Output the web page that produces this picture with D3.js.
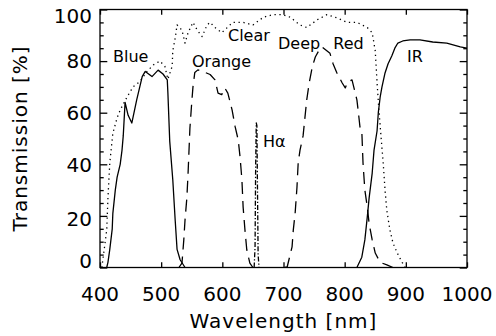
<!DOCTYPE html>
<html><head><meta charset="utf-8">
<script src="https://cdn.jsdelivr.net/npm/d3@7"></script>
<style>
html,body{margin:0;padding:0;background:#fff;}
svg text{font-family:"DejaVu Sans",sans-serif;fill:#000;}
</style></head>
<body><svg id="c" width="496" height="336"></svg>
<script>
// ---- data ----
const xTicks = [400,500,600,700,800,900,1000];
const yTicks = [0,20,40,60,80,100];
const yMinor = [5,10,15,25,30,35,45,50,55,65,70,75,85,90,95];

const blueNm = [411,413,416,420,421,425,428,433,436,438,441,446,452,460,469,474,485,495,503,510,511,514,519,523,526,531,539];
const blueT  = [0,2,7,15,21,30,35,40,45.5,51,64,59,56,65,74,76,74,76.5,75,72.7,67.6,49,34,18,7,3,0];

const clearNm = [403,411,413,416,421,428,433,444,454,465,477,487,498,506,511,518,519,523,526,534,539,544,552,559,567,575,580,588,599,608,617,634,650,667,683,699,711,727,738,755,771,788,804,820,837,845,850,853,856,859,863,866,869,874,879,886,894,899];
const clearT  = [0,14.5,27,40.5,52,58,61,66,70,72,76,78.5,80,78,73,78,84,89,94,92,87,91,95,92,89.5,94,95,93,91,93,95,95,94,97,98,98,97,94,93,96,98,96.7,95,95,93,91,84,71.5,61,52,40.5,30,22,14.5,9.5,5.6,2,0];

const orangeNm = [529,534,537,539,542,544,547,550,552,555,560,572,580,588,593,599,604,609,616,621,626,629,632,634,637,640,645,650];
const orangeT  = [0,1.7,10.7,18.4,27,36.6,54,64,70,75.6,76.6,75.6,74.8,72.7,67.6,67,69.6,67.6,61,54.5,49.4,42.8,34,23.4,14.5,6.8,1.7,0];

const haNm = [652,653.5,654.5,655.5,656.5,657.5,658.5,660];
const haT  = [0,8,40,56,55,30,5,0];

const redNm = [702,706,714,716,719,722,724,727,732,735,738,742,747,752,760,763,776,781,787,796,801,805,812,820,822,825,828,830,833,837,840,845,850,858,869,879];
const redT  = [0,0.2,8,14.5,21,31,40.5,45.5,51,58,65,71.5,77.7,81.6,85,85.5,83,79,75.6,71.5,69.6,72,72.7,65,61,54.5,53,40.5,30,23.4,17,10.7,5.6,2,1,0];

const irNm = [820,828,833,837,840,845,848,853,855,858,861,866,871,877,882,887,895,907,923,944,967,989,1000];
const irT  = [0,4,10.7,19.6,27,36.6,45.5,53,60,66,70,75.4,79,82,85,87,87.8,88.2,88.2,87.4,87,85.5,85];

const labels = [
  {t:"Blue", nm:"blue"},
];

// ---- layout ----
const L=100, R=467, T=9.5, B=267.5;
const svg = d3.select("#c");
const x = d3.scaleLinear().domain([400,1000]).range([L,R]);
const y = d3.scaleLinear().domain([0,100]).range([B,T]);

svg.append("defs").append("clipPath").attr("id","clip")
  .append("rect").attr("x",L).attr("y",T).attr("width",R-L).attr("height",B-T);

const line = d3.line().x(d=>x(d[0])).y(d=>y(d[1]));
const zip = (a,b)=>a.map((v,i)=>[v,b[i]]);
const g = svg.append("g").attr("clip-path","url(#clip)");
function draw(nm,t,dash){
  g.append("path").datum(zip(nm,t)).attr("d",line)
   .attr("fill","none").attr("stroke","#000").attr("stroke-width",1.3)
   .attr("stroke-linejoin","round").attr("stroke-linecap", dash? "butt":"round")
   .attr("stroke-dasharray",dash||null);
}
draw(blueNm,blueT,null);
draw(clearNm,clearT,"1.3,3.6");
draw(orangeNm,orangeT,"12,7");
draw(haNm,haT,"5,2,1.3,2");
draw(redNm,redT,"12,7");
draw(irNm,irT,null);

// frame
svg.append("rect").attr("x",L).attr("y",T).attr("width",R-L).attr("height",B-T)
  .attr("fill","none").attr("stroke","#000").attr("stroke-width",1.3);

// axes (ticks inward)
const xb = svg.append("g").attr("transform",`translate(0,${B})`)
  .call(d3.axisBottom(x).tickValues(xTicks).tickSize(-5.2).tickFormat(""));
const xt = svg.append("g").attr("transform",`translate(0,${T})`)
  .call(d3.axisTop(x).tickValues(xTicks).tickSize(-5.2).tickFormat(""));
const yl = svg.append("g").attr("transform",`translate(${L},0)`)
  .call(d3.axisLeft(y).tickValues(yTicks).tickSize(-7.3).tickFormat(""));
const yr = svg.append("g").attr("transform",`translate(${R},0)`)
  .call(d3.axisRight(y).tickValues(yTicks).tickSize(-7.3).tickFormat(""));
const ylm = svg.append("g").attr("transform",`translate(${L},0)`)
  .call(d3.axisLeft(y).tickValues(yMinor).tickSize(-3.7).tickFormat(""));
const yrm = svg.append("g").attr("transform",`translate(${R},0)`)
  .call(d3.axisRight(y).tickValues(yMinor).tickSize(-3.7).tickFormat(""));
[xb,xt,yl,yr,ylm,yrm].forEach(a=>{
  a.select(".domain").remove();
  a.selectAll("line").attr("stroke","#000").attr("stroke-width",1.3);
});

// tick labels
svg.append("g").selectAll("text").data(xTicks).join("text")
  .attr("x",d=>x(d)).attr("y",300.5).attr("text-anchor","middle")
  .style("font-size","20px").text(d=>d);
const yShift = d => d===0 ? -7 : (d===100 ? 6 : (d===20 ? 3 : 0));
svg.append("g").selectAll("text").data(yTicks).join("text")
  .attr("x",92).attr("y",d=>y(d)+yShift(d)+7.3).attr("text-anchor","end")
  .style("font-size","20px").text(d=>d);

// axis titles
svg.append("text").attr("x",(L+R)/2).attr("y",328).attr("text-anchor","middle")
  .style("font-size","20px").style("letter-spacing","1px").text("Wavelength [nm]");
svg.append("text").attr("transform",`translate(27,${(T+B)/2}) rotate(-90)`)
  .attr("text-anchor","middle").style("font-size","20px").style("letter-spacing","1px")
  .text("Transmission [%]");

// curve labels
const curveLabels = ["Blue","Orange","Clear","Deep Red","IR","H\u03b1"];
const lpos = [[113,62],[192,66.5],[228,41],[278,49],[407,62],[263,147]];
svg.append("g").selectAll("text").data(curveLabels).join("text")
  .attr("x",(d,i)=>lpos[i][0]).attr("y",(d,i)=>lpos[i][1])
  .style("font-size","16px").style("word-spacing","8px").text(d=>d);
</script></body></html>
